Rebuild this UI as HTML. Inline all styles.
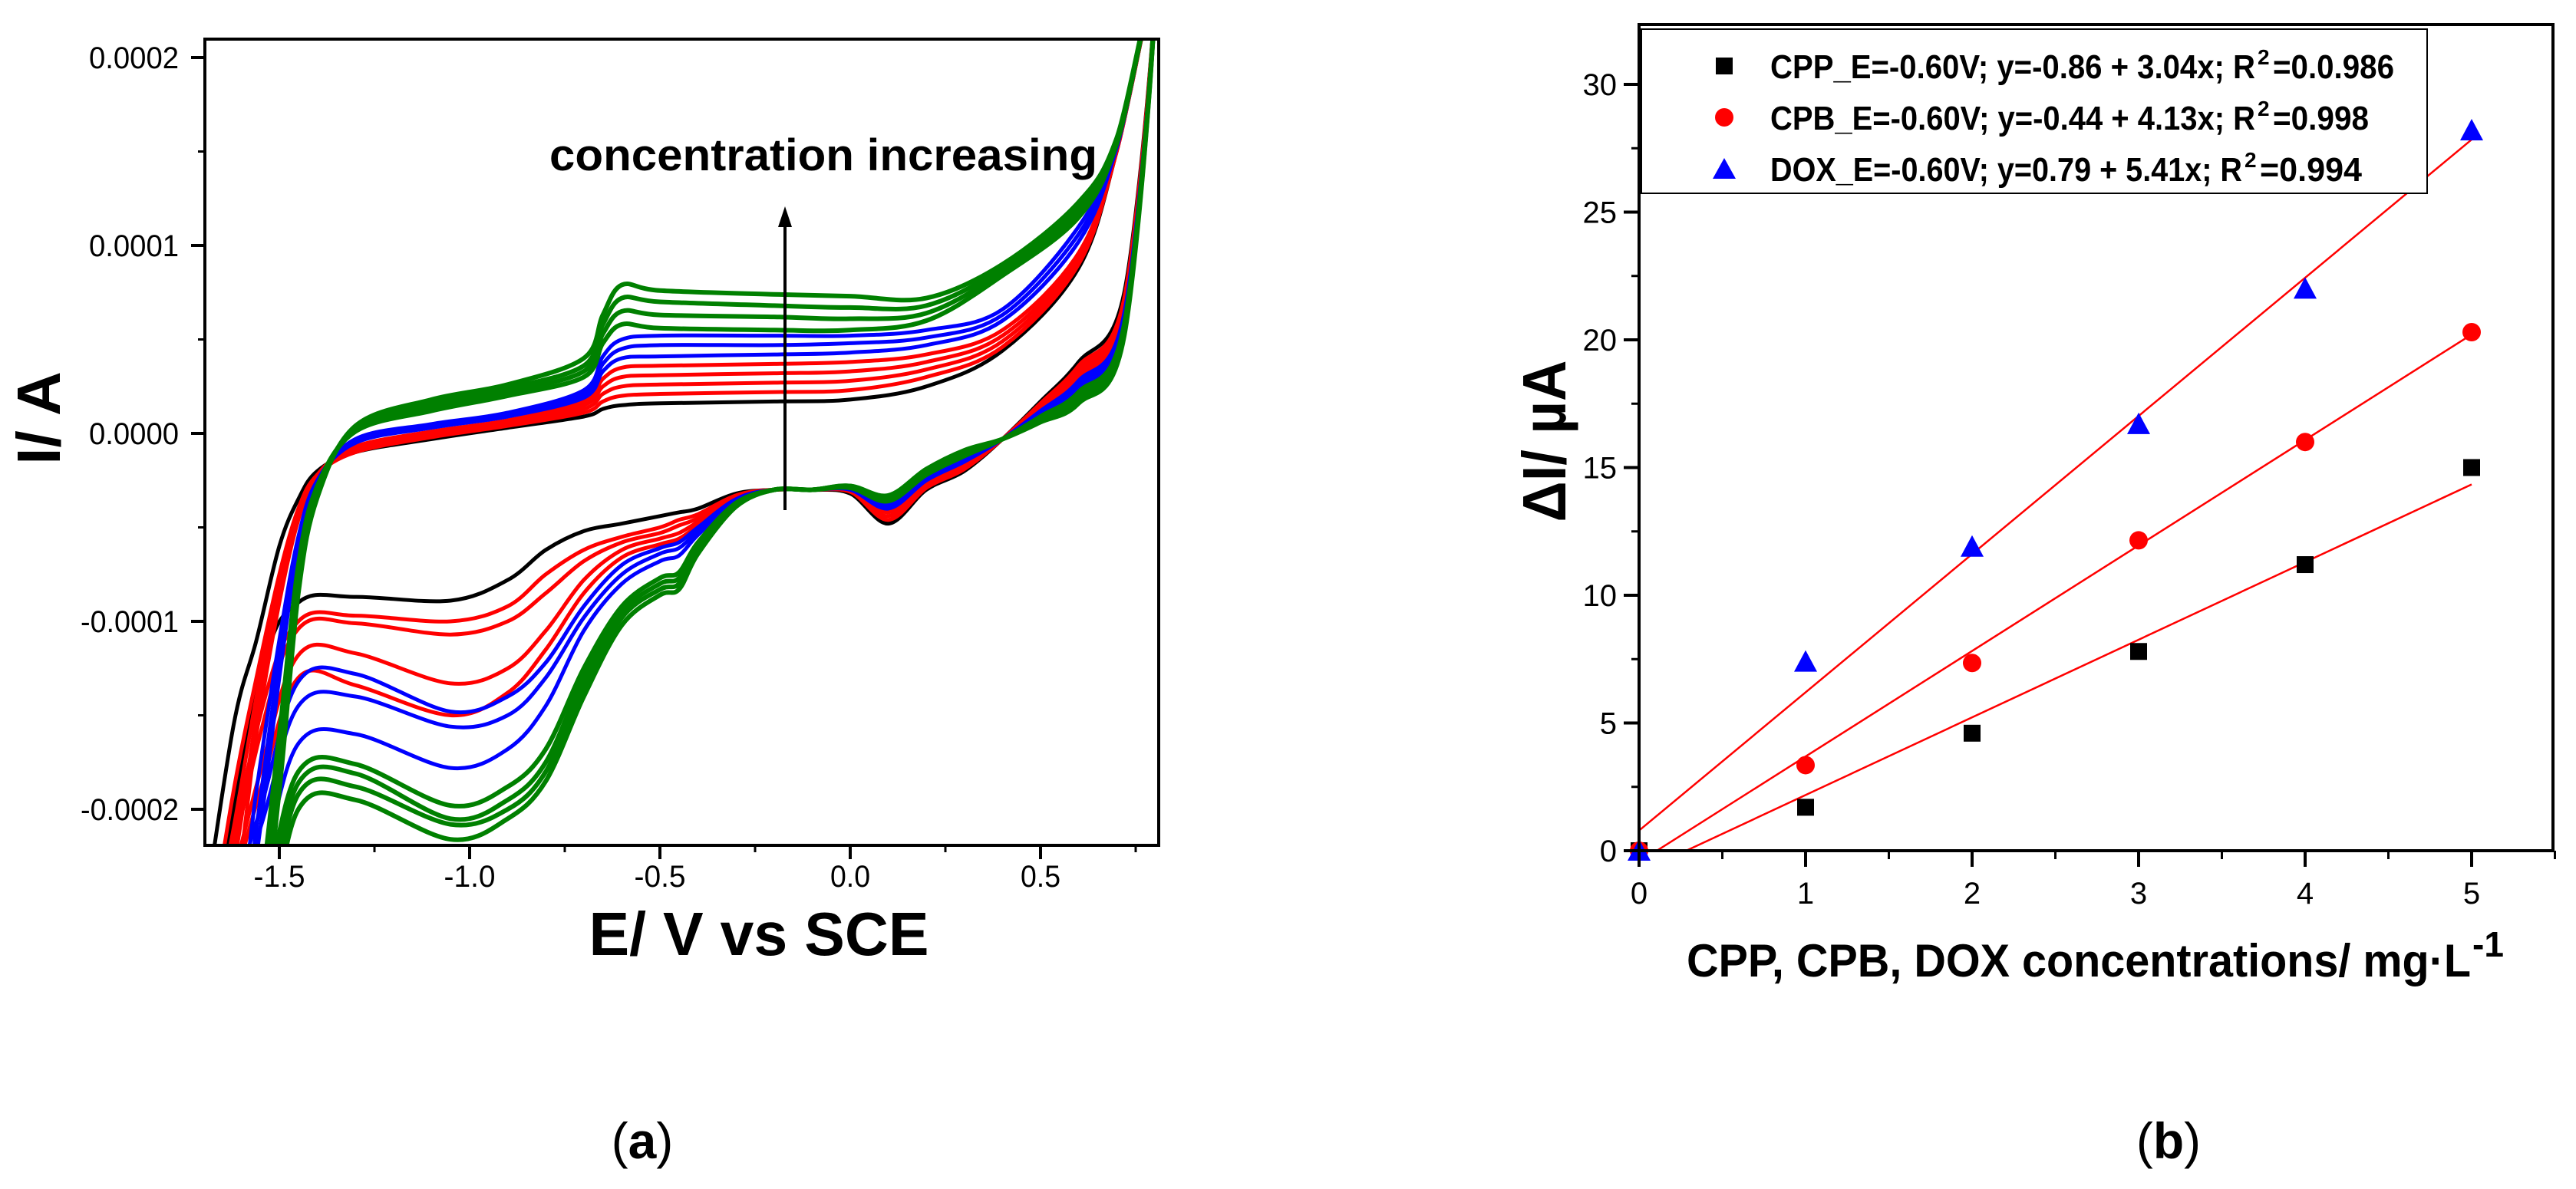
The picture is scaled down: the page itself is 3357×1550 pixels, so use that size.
<!DOCTYPE html>
<html><head><meta charset="utf-8"><style>
html,body{margin:0;padding:0;background:#fff;width:3357px;height:1550px;overflow:hidden;}
svg{display:block;}
text{font-family:"Liberation Sans",Arial,sans-serif;}
</style></head><body>
<svg id="fig" width="3357" height="1550" viewBox="0 0 3357 1550" xmlns="http://www.w3.org/2000/svg">
<defs>
<clipPath id="clipA"><rect x="267" y="51" width="1243" height="1051"/></clipPath>
<clipPath id="clipB"><rect x="2136" y="32" width="1191" height="1077"/></clipPath>
</defs>
<g id="panelA">
<g id="cvCurves" clip-path="url(#clipA)"></g>
<rect x="267" y="51" width="1243" height="1051" fill="none" stroke="#000" stroke-width="4"/>
<g id="axesA"></g>
<text x="716" y="222" font-size="58" font-weight="bold" textLength="714" lengthAdjust="spacingAndGlyphs">concentration increasing</text>
<line x1="1023" y1="665" x2="1023" y2="292" stroke="#000" stroke-width="4"/>
<polygon points="1023,269 1014,296 1032,296" fill="#000"/>
<text x="989" y="1245" font-size="80" font-weight="bold" text-anchor="middle" textLength="443" lengthAdjust="spacingAndGlyphs">E/ V vs SCE</text>
<text transform="translate(78,545) rotate(-90)" font-size="80" font-weight="bold" text-anchor="middle">I/ A</text>
</g>
<g id="panelB">
<g id="fitLines" clip-path="url(#clipB)"></g>
<g id="points"></g>
<rect x="2136" y="32" width="1191" height="1077" fill="none" stroke="#000" stroke-width="4"/>
<g id="axesB"></g>
<g>
<rect x="2139" y="38" width="1024" height="214" fill="#fff" stroke="#000" stroke-width="2"/>
<rect x="2236" y="75" width="22" height="22" fill="#000"/>
<circle cx="2247" cy="153" r="12" fill="#f00"/>
<polygon points="2247,206 2232,233 2262,233" fill="#00f"/>
<g>
<text x="2307" y="102" font-size="44" font-weight="bold" textLength="632" lengthAdjust="spacingAndGlyphs">CPP_E=-0.60V; y=-0.86 + 3.04x; R</text>
<text x="2942" y="84" font-size="28" font-weight="bold">2</text>
<text x="2962" y="102" font-size="44" font-weight="bold" textLength="158" lengthAdjust="spacingAndGlyphs">=0.0.986</text>
</g>
<g>
<text x="2307" y="169" font-size="44" font-weight="bold" textLength="632" lengthAdjust="spacingAndGlyphs">CPB_E=-0.60V; y=-0.44 + 4.13x; R</text>
<text x="2942" y="151" font-size="28" font-weight="bold">2</text>
<text x="2962" y="169" font-size="44" font-weight="bold" textLength="125" lengthAdjust="spacingAndGlyphs">=0.998</text>
</g>
<g>
<text x="2307" y="236" font-size="44" font-weight="bold" textLength="615" lengthAdjust="spacingAndGlyphs">DOX_E=-0.60V; y=0.79 + 5.41x; R</text>
<text x="2925" y="218" font-size="28" font-weight="bold">2</text>
<text x="2945" y="236" font-size="44" font-weight="bold" textLength="133" lengthAdjust="spacingAndGlyphs">=0.994</text>
</g>
</g>
<text x="2198" y="1273" font-size="60" font-weight="bold" textLength="1022" lengthAdjust="spacingAndGlyphs">CPP, CPB, DOX concentrations/ mg·L</text>
<text x="3222" y="1247" font-size="46" font-weight="bold">-1</text>
<text transform="translate(2040,575) rotate(-90)" font-size="80" font-weight="bold" text-anchor="middle" textLength="211" lengthAdjust="spacingAndGlyphs">ΔI/ µA</text>
</g>
<text x="837" y="1510" font-size="66" font-family="Liberation Serif, serif" text-anchor="middle">(<tspan font-weight="bold">a</tspan>)</text>
<text x="2826" y="1510" font-size="66" font-family="Liberation Serif, serif" text-anchor="middle">(<tspan font-weight="bold">b</tspan>)</text>
</svg>
<script>
// ---- Panel (a) data: potentials (V) and currents (µA) ----
const EU = [-1.7,-1.62,-1.56,-1.5,-1.45,-1.4,-1.3,-1.1,-0.9,-0.7,-0.65,-0.6,-0.5,-0.2,0.0,0.2,0.4,0.6,0.7,0.8];
const EL = [0.8,0.72,0.6,0.5,0.4,0.3,0.2,0.1,0.0,-0.1,-0.2,-0.3,-0.4,-0.45,-0.5,-0.6,-0.7,-0.8,-0.9,-1.05,-1.3,-1.45,-1.55,-1.7];
const black_u = [-260,-155,-110,-60,-35,-20,-10,-3,3,9,13,15,16,17,18,25,44,88,150,235];
const black_l = [235,75,38,17,-3,-20,-30,-48,-32,-30,-30,-32,-40,-42,-44,-48,-52,-62,-78,-89,-87,-90,-130,-290];
const red1_u = [-290,-190,-130,-75,-40,-22,-10,-2,4,11,17,20,21,22,23,30,46,90,150,235];
const red1_l = [235,72,36,16,-3,-19,-29,-46,-31,-30,-30,-33,-43,-46,-50,-55,-62,-75,-92,-100,-97,-100,-150,-295];
const red2_u = [-295,-210,-140,-80,-42,-22,-9,-1,5,13,21,25,26,27,28,34,49,92,150,235];
const red2_l = [235,70,34,15,-3,-18,-28,-44,-31,-30,-30,-33,-45,-49,-53,-58,-68,-85,-100,-107,-101,-104,-160,-300];
const red3_u = [-300,-230,-150,-85,-44,-22,-8,0,6,15,25,30,31,32,33,38,52,94,151,235];
const red3_l = [235,68,32,14,-3,-17,-27,-42,-30,-30,-30,-34,-47,-53,-56,-62,-78,-105,-125,-133,-117,-118,-180,-300];
const red4_u = [-300,-250,-160,-90,-46,-22,-7,1,7,17,29,35,36,37,38,42,55,96,151,235];
const red4_l = [235,66,30,13,-3,-16,-26,-41,-30,-30,-30,-34,-49,-56,-59,-66,-85,-115,-138,-150,-134,-130,-190,-300];
const blue1_u = [-300,-280,-190,-110,-55,-25,-5,3,9,19,33,40,41,42,43,47,60,102,152,235];
const blue1_l = [235,64,28,12,-3,-15,-25,-40,-30,-30,-30,-35,-50,-58,-61,-70,-92,-122,-140,-148,-128,-132,-200,-300];
const blue2_u = [-300,-300,-210,-120,-58,-25,-4,4,10,21,37,45,47,47,48,51,63,106,152,235];
const blue2_l = [235,62,26,11,-3,-14,-24,-39,-29,-30,-30,-35,-52,-61,-64,-75,-98,-130,-150,-156,-140,-145,-210,-300];
const blue3_u = [-300,-300,-225,-130,-60,-26,-3,5,11,23,41,50,52,52,52,55,66,110,153,235];
const blue3_l = [235,60,24,10,-3,-13,-23,-38,-29,-30,-30,-36,-54,-65,-68,-80,-105,-145,-168,-178,-160,-165,-230,-300];
const green1_u = [-300,-300,-260,-160,-70,-28,1,12,20,30,48,58,56,55,55,60,84,115,154,235];
const green1_l = [235,58,22,9,-3,-12,-22,-36,-29,-30,-30,-37,-58,-74,-77,-92,-125,-168,-188,-198,-176,-180,-250,-300];
const green2_u = [-300,-300,-270,-170,-75,-30,2,14,22,33,53,65,63,62,61,64,86,118,155,235];
const green2_l = [235,56,20,8,-3,-11,-21,-35,-28,-30,-30,-38,-60,-77,-80,-95,-130,-175,-195,-205,-181,-186,-260,-300];
const green3_u = [-300,-300,-280,-180,-80,-32,3,16,24,36,58,72,70,68,67,68,88,120,156,235];
const green3_l = [235,54,18,7,-3,-10,-20,-34,-28,-30,-30,-38,-62,-80,-83,-98,-135,-180,-200,-208,-188,-192,-270,-300];
const green4_u = [-300,-300,-290,-190,-85,-34,4,18,26,40,63,79,76,74,73,72,90,123,157,235];
const green4_l = [235,52,16,6,-3,-9,-19,-33,-28,-30,-30,-39,-64,-83,-86,-102,-140,-185,-205,-216,-195,-200,-280,-300];
const cvNames = ['black','red-1','red-2','red-3','red-4','blue-1','blue-2','blue-3','green-1','green-2','green-3','green-4'];
const cvUpper = [black_u,red1_u,red2_u,red3_u,red4_u,blue1_u,blue2_u,blue3_u,green1_u,green2_u,green3_u,green4_u];
const cvLower = [black_l,red1_l,red2_l,red3_l,red4_l,blue1_l,blue2_l,blue3_l,green1_l,green2_l,green3_l,green4_l];
const cvColors = ['#000','#f00','#f00','#f00','#f00','#00f','#00f','#00f','#008000','#008000','#008000','#008000'];
const xTicksA = [-1.5,-1.0,-0.5,0.0,0.5];
const xTickLabelsA = ['-1.5','-1.0','-0.5','0.0','0.5'];
const yTicksA = [0.0002,0.0001,0,-0.0001,-0.0002];
const yTickLabelsA = ['0.0002','0.0001','0.0000','-0.0001','-0.0002'];

// ---- Panel (b) data ----
const conc = [0,1,2,3,4,5];
const cppVals = [0,1.7,4.6,7.8,11.2,15.0];
const cpbVals = [0,3.35,7.35,12.15,16.0,20.3];
const doxVals = [0,7.4,11.9,16.7,22.0,28.2];
const fitIntercepts = [-0.86,-0.44,0.79];
const fitSlopes = [3.04,4.13,5.41];
const xTicksB = [0,1,2,3,4,5];
const yTicksB = [0,5,10,15,20,25,30];

const NS = 'http://www.w3.org/2000/svg';
function mk(tag, attrs, parent){const e=document.createElementNS(NS,tag);for(const k in attrs)e.setAttribute(k,attrs[k]);parent.appendChild(e);return e;}
const xA = E => 364 + (E + 1.5) * 496;
const yA = uA => 565 - uA * 2.45;
const xB = c => 2136 + c * 217;
const yB = v => 1109 - v * 33.3;

function smoothPath(pts){
  let d = 'M' + pts[0][0].toFixed(1) + ',' + pts[0][1].toFixed(1);
  for(let i=0;i<pts.length-1;i++){
    const p0=pts[Math.max(0,i-1)],p1=pts[i],p2=pts[i+1],p3=pts[Math.min(pts.length-1,i+2)];
    const c1=[p1[0]+(p2[0]-p0[0])/6,p1[1]+(p2[1]-p0[1])/6];
    const c2=[p2[0]-(p3[0]-p1[0])/6,p2[1]-(p3[1]-p1[1])/6];
    d+=' C'+c1[0].toFixed(1)+','+c1[1].toFixed(1)+' '+c2[0].toFixed(1)+','+c2[1].toFixed(1)+' '+p2[0].toFixed(1)+','+p2[1].toFixed(1);
  }
  return d;
}

const cvG = document.getElementById('cvCurves');
cvUpper.forEach((up, i) => {
  const pts = EU.map((E, j) => [xA(E), yA(up[j])]).concat(EL.slice(1).map((E, j) => [xA(E), yA(cvLower[i][j+1])]));
  const sw = cvColors[i] === '#008000' ? 6 : 5;
  const p = mk('path', {d: smoothPath(pts), fill:'none', stroke: cvColors[i], 'stroke-width': sw, 'stroke-linejoin':'round'}, cvG);
  
  
});

const axA = document.getElementById('axesA');
xTicksA.forEach((v, i) => {
  const t = mk('line', {x1:xA(v), x2:xA(v), y1:1102, y2:1120, stroke:'#000', 'stroke-width':4}, axA);
  
  
  const w = xTickLabelsA[i].length === 4 ? 67 : 52;
  const l = mk('text', {x:xA(v), y:1156, 'font-size':40, 'text-anchor':'middle', textLength:w, lengthAdjust:'spacingAndGlyphs'}, axA);
  l.textContent = xTickLabelsA[i];
  
  
});
[-1.25,-0.75,-0.25,0.25,0.75].forEach(v => {
  const t = mk('line', {x1:xA(v), x2:xA(v), y1:1102, y2:1111, stroke:'#000', 'stroke-width':3}, axA);
  
  
});
yTicksA.forEach((v, i) => {
  const y = yA(v * 1e6);
  const t = mk('line', {x1:249, x2:267, y1:y, y2:y, stroke:'#000', 'stroke-width':4}, axA);
  
  
  const w = yTickLabelsA[i].startsWith('-') ? 128 : 117;
  const l = mk('text', {x:233 - w, y:y + 14, 'font-size':40, textLength:w, lengthAdjust:'spacingAndGlyphs'}, axA);
  l.textContent = yTickLabelsA[i];
  
  
});
[150,50,-50,-150].forEach(v => {
  const t = mk('line', {x1:258, x2:267, y1:yA(v), y2:yA(v), stroke:'#000', 'stroke-width':3}, axA);
  
  
});

// panel b
const fitG = document.getElementById('fitLines');
fitSlopes.forEach((m, i) => {
  const b = fitIntercepts[i];
  const x0 = b < 0 ? -b / m : 0;
  const l = mk('line', {x1:xB(x0), y1:yB(b + m * x0), x2:xB(5), y2:yB(b + m * 5), stroke:'#f00', 'stroke-width':2.5}, fitG);
  
  
});
const ptG = document.getElementById('points');
conc.forEach((c, i) => {
  const s = mk('rect', {x:xB(c)-11, y:yB(cppVals[i])-11, width:22, height:22, fill:'#000'}, ptG);
  
  
});
conc.forEach((c, i) => {
  const s = mk('circle', {cx:xB(c), cy:yB(cpbVals[i]), r:12, fill:'#f00'}, ptG);
  
  
});
conc.forEach((c, i) => {
  const x = xB(c), y = yB(doxVals[i]);
  const s = mk('polygon', {points:(x)+','+(y-15)+' '+(x-15)+','+(y+13)+' '+(x+15)+','+(y+13), fill:'#00f'}, ptG);
  
  
});
const axB = document.getElementById('axesB');
xTicksB.forEach(v => {
  const t = mk('line', {x1:xB(v), x2:xB(v), y1:1109, y2:1130, stroke:'#000', 'stroke-width':4}, axB);
  
  
  const l = mk('text', {x:xB(v), y:1178, 'font-size':40, 'text-anchor':'middle'}, axB);
  l.textContent = String(v);
  
  
});
[0.5,1.5,2.5,3.5,4.5,5.5].forEach(v => {
  const t = mk('line', {x1:xB(v), x2:xB(v), y1:1109, y2:1120, stroke:'#000', 'stroke-width':3}, axB);
  
  
});
const xExt = mk('line', {x1:2117, x2:2136, y1:1109, y2:1109, stroke:'#000', 'stroke-width':4}, axB);


yTicksB.forEach(v => {
  const t = mk('line', {x1:2116, x2:2136, y1:yB(v), y2:yB(v), stroke:'#000', 'stroke-width':4}, axB);
  
  
  const l = mk('text', {x:2107, y:yB(v) + 14, 'font-size':40, 'text-anchor':'end'}, axB);
  l.textContent = String(v);
  
  
});
[2.5,7.5,12.5,17.5,22.5,27.5].forEach(v => {
  const t = mk('line', {x1:2126, x2:2136, y1:yB(v), y2:yB(v), stroke:'#000', 'stroke-width':3}, axB);
  
  
});
</script>
</body></html>
